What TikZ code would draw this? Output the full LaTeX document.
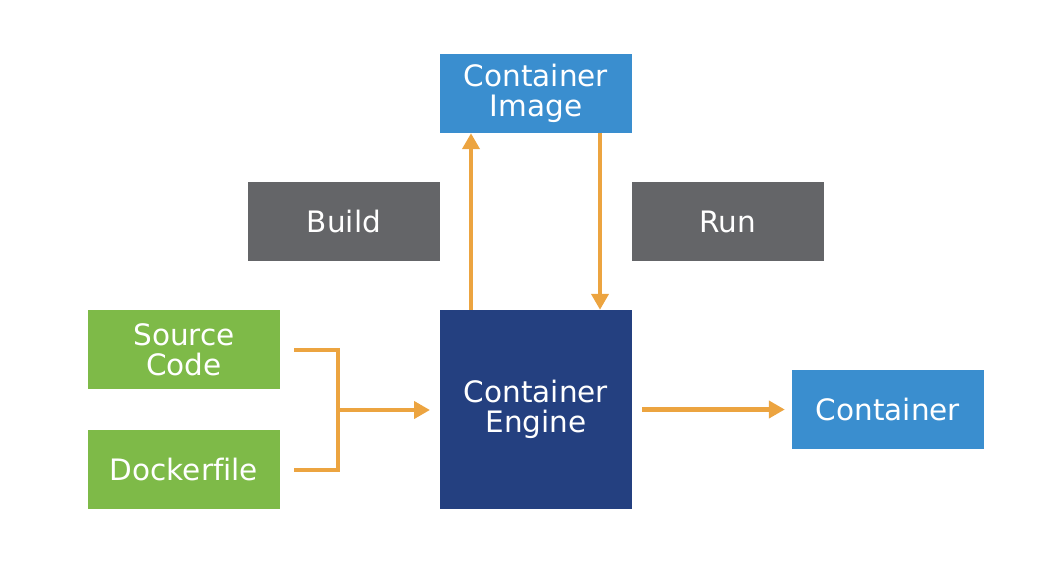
\documentclass[tikz,border=0pt]{standalone}
\usepackage{fontspec}
\setmainfont[Ligatures={NoCommon}]{DejaVu Sans}
\usetikzlibrary{arrows.meta}
\definecolor{lblue}{RGB}{58,142,207}
\definecolor{dblue}{RGB}{36,64,128}
\definecolor{dgray}{RGB}{100,101,104}
\definecolor{lgreen}{RGB}{126,186,72}
\definecolor{orng}{RGB}{236,164,64}
\tikzset{
  box/.style={draw=none, minimum width=192pt, minimum height=79pt, inner sep=0pt, text=white, align=center, font=\fontsize{29.5}{30}\selectfont},
  conn/.style={draw=orng, line width=4.5pt, -{Triangle[length=16pt,width=17pt]}},
  seg/.style={draw=orng, line width=4.5pt}
}
\begin{document}
\begin{tikzpicture}[x=1pt,y=-1pt]
\useasboundingbox (0,0) rectangle (1048,584);
\node[box, fill=lblue] (img) at (536,93.5) {Container\\Image};
\node[box, fill=dgray] (build) at (344,221.5) {Build};
\node[box, fill=dgray] (run) at (728,221.5) {Run};
\node[box, fill=lgreen] (src) at (184,349.5) {Source\\Code};
\node[box, fill=lgreen] (dock) at (184,469.5) {Dockerfile};
\node[box, fill=dblue, minimum height=199pt] (eng) at (536,409.5) {Container\\Engine};
\node[box, fill=lblue] (cont) at (888,409.5) {Container};
\coordinate (j1) at (294,350);
\coordinate (j2) at (338,350);
\coordinate (j3) at (338,470);
\coordinate (j4) at (294,470);
\coordinate (jm) at (338,410);
\coordinate (em) at (430,410);
\draw[seg, line join=miter] (j1) -- (j2) -- (j3) -- (j4);
\draw[conn] ([xshift=-65pt]eng.north) -- ([xshift=-65pt]img.south);
\draw[conn] ([xshift=64pt]img.south) -- ([xshift=64pt]eng.north);
\draw[conn] (jm) -- (em);
\draw[conn] ([xshift=10pt]eng.east) -- ([xshift=-7pt]cont.west);
\end{tikzpicture}
\end{document}
